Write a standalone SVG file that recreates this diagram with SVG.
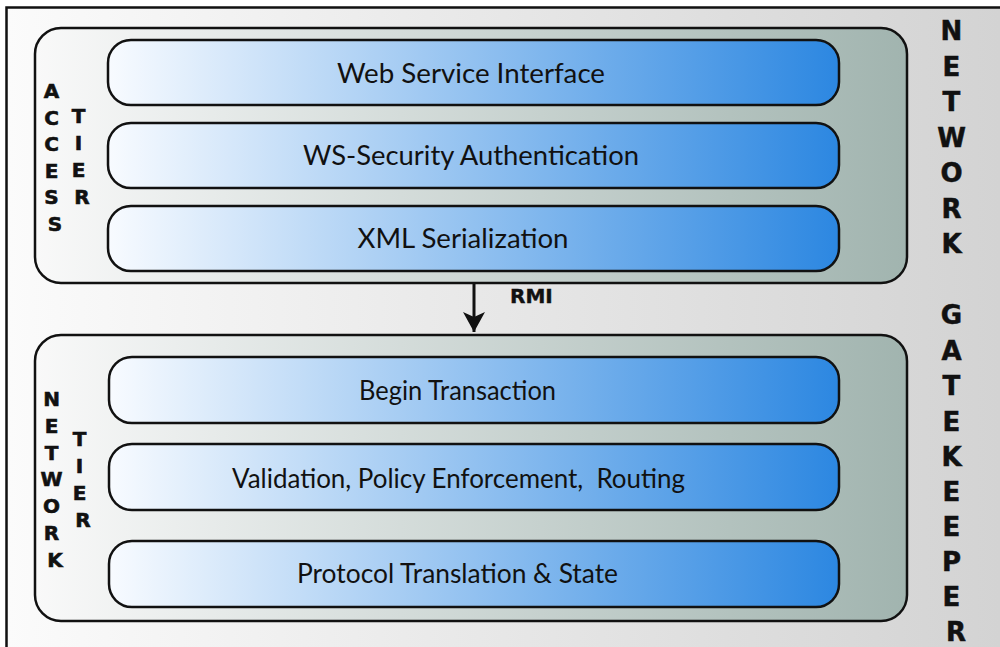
<svg xmlns="http://www.w3.org/2000/svg" width="1000" height="647" viewBox="0 0 1000 647">
  <defs>
    <linearGradient id="bgGrad" x1="0" y1="0" x2="1" y2="0">
      <stop offset="0" stop-color="#fbfbfb"/>
      <stop offset="1" stop-color="#d3d3d3"/>
    </linearGradient>
    <linearGradient id="tierGrad" x1="0" y1="0" x2="1" y2="0">
      <stop offset="0" stop-color="#f9f9f9"/>
      <stop offset="1" stop-color="#a1b4af"/>
    </linearGradient>
    <linearGradient id="layerGrad" x1="0" y1="0" x2="1" y2="0">
      <stop offset="0" stop-color="#f8fbff"/>
      <stop offset="1" stop-color="#2c87e1"/>
    </linearGradient>
    <marker id="arrowHead" markerUnits="userSpaceOnUse" markerWidth="24" markerHeight="24" viewBox="0 0 24 24" refX="20" refY="12" orient="auto">
      <path d="M0,1 L20,12 L0,23 L5,12 Z" fill="#111"/>
    </marker>
    <style>
      .frame { fill: none; stroke: #111; stroke-width: 2.5; }
      .tier { fill: url(#tierGrad); stroke: #111; stroke-width: 2.5; }
      .layer { fill: url(#layerGrad); stroke: #111; stroke-width: 2.5; }
      .label { font-family: Lato, "Open Sans", "Liberation Sans", sans-serif; font-size: 26px; fill: #111; text-anchor: middle; }
      .vert { font-family: "DejaVu Sans", "Liberation Sans", sans-serif; font-weight: bold; font-size: 20px; fill: #111; stroke: #111; stroke-width: 0.6; text-anchor: middle; }
      .vert-big { font-family: "DejaVu Sans", "Liberation Sans", sans-serif; font-weight: bold; font-size: 26px; fill: #111; stroke: #111; stroke-width: 0.5; text-anchor: middle; }
      .conn { fill: none; stroke: #111; stroke-width: 3; }
      .conn-label { font-family: "DejaVu Sans", "Liberation Sans", sans-serif; font-weight: bold; font-size: 20px; fill: #111; stroke: #111; stroke-width: 0.4; }
    </style>
  </defs>

  <!-- page background and frame -->
  <rect x="7" y="8" width="993" height="639" fill="url(#bgGrad)"/>
  <path class="frame" d="M6.5,647 L6.5,7.5 L1000,7.5"/>

  <!-- gatekeeper caption down the right edge -->
  <g id="network-gatekeeper">
    <text class="vert-big">
      <tspan x="956" y="40">N</tspan>
      <tspan x="956" y="75.5">E</tspan>
      <tspan x="956" y="111">T</tspan>
      <tspan x="956" y="146.5">W</tspan>
      <tspan x="956" y="182">O</tspan>
      <tspan x="956" y="217.5">R</tspan>
      <tspan x="956" y="253">K</tspan>
      <tspan x="956" y="324">G</tspan>
      <tspan x="956" y="359.5">A</tspan>
      <tspan x="956" y="395">T</tspan>
      <tspan x="956" y="430.5">E</tspan>
      <tspan x="956" y="466">K</tspan>
      <tspan x="956" y="501">E</tspan>
      <tspan x="956" y="536">E</tspan>
      <tspan x="956" y="571">P</tspan>
      <tspan x="956" y="606">E</tspan>
      <tspan x="956" y="641">R</tspan>
    </text>
  </g>

  <!-- access tier -->
  <g id="access-tier">
    <rect class="tier" x="35" y="28" width="872" height="255" rx="26" ry="26"/>
    <text class="vert">
      <tspan x="55" y="98">A</tspan>
      <tspan x="55" y="124.5">C</tspan>
      <tspan x="55" y="151">C</tspan>
      <tspan x="55" y="177.5">E</tspan>
      <tspan x="55" y="204">S</tspan>
      <tspan x="55" y="230.5">S</tspan>
    </text>
    <text class="vert">
      <tspan x="82" y="123">T</tspan>
      <tspan x="82" y="150">I</tspan>
      <tspan x="82" y="177">E</tspan>
      <tspan x="82" y="204">R</tspan>
    </text>
  </g>

  <g id="web-service-interface">
    <rect class="layer" x="108" y="40" width="731" height="65" rx="23" ry="23"/>
    <text class="label" x="471" y="83" textLength="268" lengthAdjust="spacingAndGlyphs">Web Service Interface</text>
  </g>
  <g id="ws-security-authentication">
    <rect class="layer" x="108" y="123" width="731" height="65" rx="23" ry="23"/>
    <text class="label" x="471" y="165" textLength="336" lengthAdjust="spacingAndGlyphs">WS-Security Authentication</text>
  </g>
  <g id="xml-serialization">
    <rect class="layer" x="108" y="206" width="731" height="65" rx="23" ry="23"/>
    <text class="label" x="463" y="248" textLength="211" lengthAdjust="spacingAndGlyphs">XML Serialization</text>
  </g>

  <!-- network tier -->
  <g id="network-tier">
    <rect class="tier" x="35" y="335" width="872" height="286" rx="26" ry="26"/>
    <text class="vert">
      <tspan x="55" y="406">N</tspan>
      <tspan x="55" y="432.8">E</tspan>
      <tspan x="55" y="459.6">T</tspan>
      <tspan x="55" y="486.4">W</tspan>
      <tspan x="55" y="513.2">O</tspan>
      <tspan x="55" y="540">R</tspan>
      <tspan x="55" y="566.8">K</tspan>
    </text>
    <text class="vert">
      <tspan x="83" y="446">T</tspan>
      <tspan x="83" y="473">I</tspan>
      <tspan x="83" y="500">E</tspan>
      <tspan x="83" y="527">R</tspan>
    </text>
  </g>

  <g id="begin-transaction">
    <rect class="layer" x="109" y="357" width="730" height="66" rx="23" ry="23"/>
    <text class="label" x="457.5" y="400" textLength="197" lengthAdjust="spacingAndGlyphs">Begin Transaction</text>
  </g>
  <g id="validation-policy-routing">
    <rect class="layer" x="109" y="444" width="730" height="66" rx="23" ry="23"/>
    <text class="label" x="458.5" y="488" textLength="453" lengthAdjust="spacingAndGlyphs" style="white-space: pre">Validation, Policy Enforcement,  Routing</text>
  </g>
  <g id="protocol-translation-state">
    <rect class="layer" x="109" y="541" width="730" height="66" rx="23" ry="23"/>
    <text class="label" x="457.5" y="583" textLength="321" lengthAdjust="spacingAndGlyphs">Protocol Translation &amp; State</text>
  </g>

  <!-- RMI call from the access tier down to the network tier -->
  <g id="connectors">
    <path class="conn" d="M474,284 L474,332" marker-end="url(#arrowHead)"/>
    <text class="conn-label" x="510" y="303">RMI</text>
  </g>
</svg>
